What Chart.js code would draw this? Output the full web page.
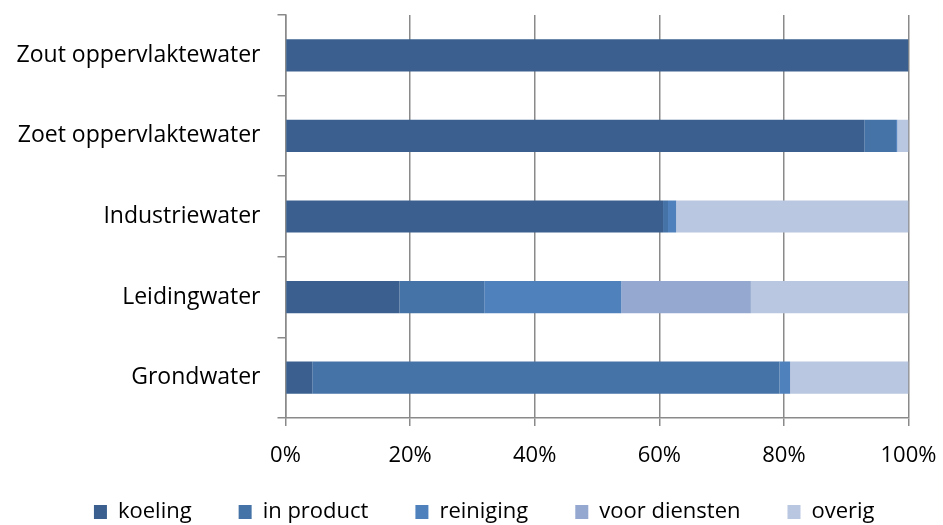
<!DOCTYPE html>
<html>
<head>
<meta charset="utf-8">
<script src="https://cdn.jsdelivr.net/npm/chart.js@4.4.0/dist/chart.umd.min.js"></script>
<style>
  html, body { margin: 0; padding: 0; background: #fff; }
  #wrap { width: 943px; height: 525px; position: relative; }
</style>
</head>
<body>
<div id="wrap"><canvas id="grafiek"></canvas></div>
<script>
// watergebruik per bron, aandeel per toepassing (%)
const categorieen = ['Zout oppervlaktewater', 'Zoet oppervlaktewater', 'Industriewater', 'Leidingwater', 'Grondwater'];
const koeling      = [100, 92.9, 60.6, 18.3, 4.3];
const inProduct    = [0, 5.1, 0.8, 13.6, 75.0];
const reiniging    = [0, 0.2, 1.3, 22.0, 1.7];
const voorDiensten = [0, 0, 0, 20.8, 0];
const overig       = [0, 1.8, 37.3, 25.3, 19.0];
const xTicks = [0, 20, 40, 60, 80, 100];

const lettertype = '"Open Sans", sans-serif';
const grijs = '#8a8a8a';

const maakSet = (label, data, kleur) => ({
    label, data, backgroundColor: kleur, borderWidth: 0,
    barPercentage: 0.4, categoryPercentage: 1
});

// legenda iets omhoog en naar rechts schuiven, zoals in het origineel
const legendaVerschuiven = {
    id: 'legendaVerschuiven',
    afterLayout(chart) {
        const lg = chart.legend;
        if (!lg) return;
        lg.top -= 14; lg.bottom -= 14;
        lg.left += 30; lg.right += 30;
    }
};

new Chart(document.getElementById('grafiek'), {
    type: 'bar',
    data: {
        labels: categorieen,
        datasets: [
            maakSet('koeling', koeling, 'rgb(59,96,143)'),
            maakSet('in product', inProduct, 'rgb(70,115,167)'),
            maakSet('reiniging', reiniging, 'rgb(79,129,189)'),
            maakSet('voor diensten', voorDiensten, 'rgb(149,168,207)'),
            maakSet('overig', overig, 'rgb(186,199,224)')
        ]
    },
    plugins: [legendaVerschuiven],
    options: {
        indexAxis: 'y',
        responsive: true,
        maintainAspectRatio: false,
        animation: false,
        layout: { padding: { left: 0, right: 34.5, top: 15, bottom: -22 } },
        plugins: {
            tooltip: { enabled: false },
            legend: {
                position: 'bottom',
                labels: {
                    font: { family: lettertype, size: 22 },
                    color: '#000',
                    boxWidth: 13,
                    boxHeight: 14,
                    padding: 47
                }
            }
        },
        scales: {
            x: {
                stacked: true,
                min: 0,
                max: 100,
                afterBuildTicks: (schaal) => { schaal.ticks = xTicks.map(v => ({ value: v })); },
                afterFit: (schaal) => { schaal.height = 50; schaal.paddingRight = 0; schaal.paddingLeft = 0; },
                grid: { color: grijs, lineWidth: 1.5, tickLength: 8 },
                border: { color: grijs, width: 1.5 },
                ticks: {
                    callback: (v) => v + '%',
                    font: { family: lettertype, size: 22 },
                    color: '#000',
                    padding: 17,
                    maxRotation: 0
                }
            },
            y: {
                stacked: true,
                afterFit: (schaal) => { schaal.width = 285.5; schaal.paddingTop = 0; schaal.paddingBottom = 0; },
                grid: { offset: true, drawOnChartArea: false, color: grijs, lineWidth: 1.5, tickLength: 8 },
                border: { color: grijs, width: 1.5 },
                ticks: {
                    font: { family: lettertype, size: 23 },
                    color: '#000',
                    padding: 17
                }
            }
        }
    }
});
</script>
</body>
</html>
